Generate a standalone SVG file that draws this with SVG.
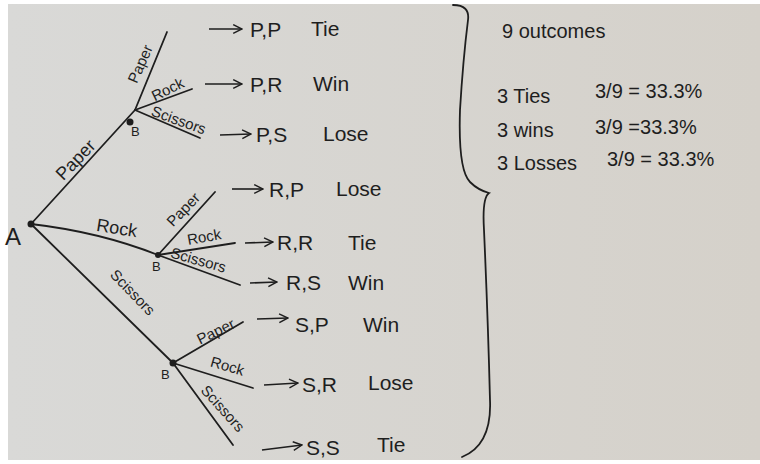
<svg xmlns="http://www.w3.org/2000/svg" width="760" height="464" viewBox="0 0 760 464">
<defs>
<linearGradient id="paper" x1="0" y1="0" x2="1" y2="0">
<stop offset="0" stop-color="#d9d9d7"/>
<stop offset="1" stop-color="#d5d1ca"/>
</linearGradient>
<marker id="ah" viewBox="0 0 10 10" refX="9" refY="5" markerWidth="11" markerHeight="11" markerUnits="userSpaceOnUse" orient="auto">
<path d="M1,1 L9,5 L1,9" fill="none" stroke="#1e1e1e" stroke-width="1.3"/>
</marker>
</defs>
<style>
.ln{fill:none;stroke:#1e1e1e;stroke-width:1.8;stroke-linecap:round}
.ar{fill:none;stroke:#1e1e1e;stroke-width:1.6;marker-end:url(#ah)}
.dot{fill:#1e1e1e}
.lbl{font-family:"Liberation Sans",Arial,sans-serif;font-size:15px;fill:#1e1e1e}
.big{font-size:18px}
.nd{font-family:"Liberation Sans",Arial,sans-serif;font-size:13px;fill:#1e1e1e}
.out{font-family:"Liberation Sans",Arial,sans-serif;font-size:21px;fill:#1e1e1e}
.sum{font-family:"Liberation Sans",Arial,sans-serif;font-size:20px;fill:#1e1e1e}
</style>
<rect x="0" y="0" width="760" height="464" fill="#ffffff"/>
<rect x="8" y="4" width="752" height="456" fill="url(#paper)"/>

<g id="connectors">
<path class="ln" d="M31,224 L135,110"/>
<path class="ln" d="M31,224 Q100,232 158,255"/>
<path class="ln" d="M31,224 L173,363"/>
<path class="ln" d="M135,110 L167,32"/>
<path class="ln" d="M135,110 L192,89"/>
<path class="ln" d="M135,110 L200,138"/>
<path class="ln" d="M158,255 L215,192"/>
<path class="ln" d="M158,255 L235,243"/>
<path class="ln" d="M158,255 L240,285"/>
<path class="ln" d="M173,363 L243,322"/>
<path class="ln" d="M173,363 L253,388"/>
<path class="ln" d="M173,363 L233,445"/>
<path class="ar" d="M209,29 L242,29"/>
<path class="ar" d="M205,84 L242,84"/>
<path class="ar" d="M220,135 L251,134"/>
<path class="ar" d="M232,189 L263,189"/>
<path class="ar" d="M245,243 L273,242"/>
<path class="ar" d="M250,283 L277,282"/>
<path class="ar" d="M257,319 L288,318"/>
<path class="ar" d="M264,385 L298,383"/>
<path class="ar" d="M262,450 L302,445"/>
<text class="lbl big" transform="translate(80,164) rotate(-46)" text-anchor="middle">Paper</text>
<text class="lbl big" transform="translate(116,234) rotate(9)" text-anchor="middle">Rock</text>
<text class="lbl" transform="translate(129,296) rotate(46)" text-anchor="middle">Scissors</text>
<text class="lbl" transform="translate(145,66) rotate(-66)" text-anchor="middle">Paper</text>
<text class="lbl" transform="translate(170,94) rotate(-26)" text-anchor="middle">Rock</text>
<text class="lbl" transform="translate(177,125) rotate(20)" text-anchor="middle">Scissors</text>
<text class="lbl" transform="translate(187,213) rotate(-46)" text-anchor="middle">Paper</text>
<text class="lbl" transform="translate(205,242) rotate(-10)" text-anchor="middle">Rock</text>
<text class="lbl" transform="translate(197,265) rotate(16)" text-anchor="middle">Scissors</text>
<text class="lbl" transform="translate(218,336) rotate(-26)" text-anchor="middle">Paper</text>
<text class="lbl" transform="translate(226,371) rotate(16)" text-anchor="middle">Rock</text>
<text class="lbl" transform="translate(219,412) rotate(48)" text-anchor="middle">Scissors</text>
</g>

<g id="node-A">
<circle class="dot" cx="31" cy="224" r="3.5"/>
<text class="out" x="5" y="245" style="font-size:24px">A</text>
</g>
<g id="node-B1">
<circle class="dot" cx="130" cy="122" r="3.5"/>
<text class="nd" x="131" y="136">B</text>
</g>
<g id="node-B2">
<circle class="dot" cx="158" cy="255" r="3"/>
<text class="nd" x="152" y="271">B</text>
</g>
<g id="node-B3">
<circle class="dot" cx="173" cy="363" r="3.5"/>
<text class="nd" x="161" y="379">B</text>
</g>

<g id="outcomes">
<text class="out" x="250" y="37">P,P</text><text class="out" x="311" y="36">Tie</text>
<text class="out" x="250" y="92">P,R</text><text class="out" x="313" y="91">Win</text>
<text class="out" x="256" y="142">P,S</text><text class="out" x="323" y="141">Lose</text>
<text class="out" x="269" y="197">R,P</text><text class="out" x="336" y="196">Lose</text>
<text class="out" x="277" y="250">R,R</text><text class="out" x="348" y="250">Tie</text>
<text class="out" x="286" y="290">R,S</text><text class="out" x="348" y="290">Win</text>
<text class="out" x="295" y="332">S,P</text><text class="out" x="363" y="332">Win</text>
<text class="out" x="302" y="392">S,R</text><text class="out" x="368" y="390">Lose</text>
<text class="out" x="306" y="455">S,S</text><text class="out" x="377" y="452">Tie</text>
</g>

<g id="brace">
<path class="ln" d="M453,5 Q470,5 468,20 Q463,60 460,110 Q458,170 470,182 Q478,190 489,193 Q482,198 484,230 Q488,320 490,400 Q492,445 462,457"/>
</g>

<g id="summary">
<text class="sum" x="502" y="38">9 outcomes</text>
<text class="sum" x="497" y="103">3 Ties</text><text class="sum" x="595" y="98">3/9 = 33.3%</text>
<text class="sum" x="497" y="137">3 wins</text><text class="sum" x="595" y="134">3/9 =33.3%</text>
<text class="sum" x="497" y="170">3 Losses</text><text class="sum" x="607" y="166">3/9 = 33.3%</text>
</g>
</svg>
